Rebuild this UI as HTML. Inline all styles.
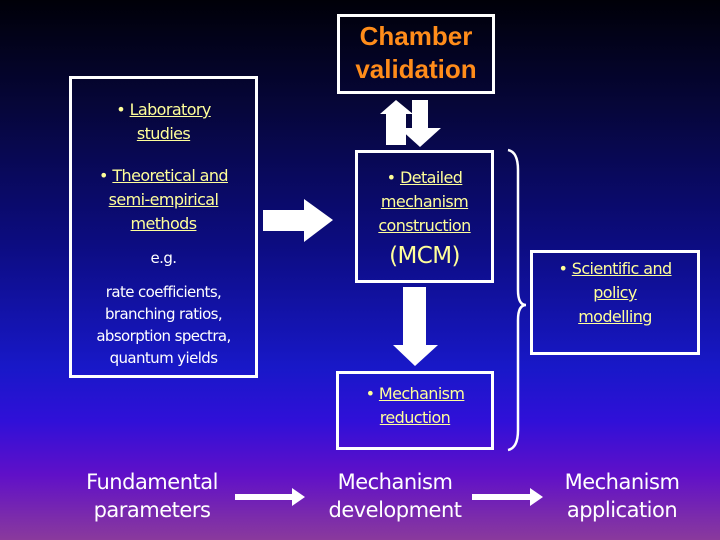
<!DOCTYPE html>
<html><head><style>
body{margin:0;width:720px;height:540px;overflow:hidden;font-family:"DejaVu Sans","Liberation Sans",sans-serif;
background:linear-gradient(180deg,#000008 0%,#06063a 20%,#0c0c80 45%,#1818c8 68%,#3010d8 78%,#6010c8 88%,#8a3a9c 100%);position:relative}
.b{position:absolute;border:3px solid #fff;box-sizing:border-box}
.t{position:absolute;text-align:center;color:#ffff99;font-size:16px;line-height:24px;letter-spacing:-0.6px}
.t u{text-decoration:underline}
.w{color:#fff}
.big{position:absolute;color:#fff;font-size:21px;line-height:28px;text-align:center;letter-spacing:-0.5px}
</style></head><body>
<div class="b" style="left:337px;top:14px;width:158px;height:80px"></div>
<div style="position:absolute;left:337px;top:20px;width:158px;text-align:center;color:#ff8c1a;font-weight:bold;font-size:26px;line-height:33px;font-family:'Liberation Sans',sans-serif">Chamber<br>validation</div>
<div class="b" style="left:69px;top:76px;width:189px;height:302px"></div>
<div class="t" style="left:69px;top:98px;width:189px">• <u>Laboratory<br>studies</u></div>
<div class="t" style="left:69px;top:164px;width:189px">• <u>Theoretical and<br>semi-empirical<br>methods</u></div>
<div class="t w" style="left:69px;top:246px;width:189px;font-size:15px">e.g.</div>
<div class="t w" style="left:69px;top:281px;width:189px;font-size:15px;line-height:22px">rate coefficients,<br>branching ratios,<br>absorption spectra,<br>quantum yields</div>
<div class="b" style="left:355px;top:150px;width:139px;height:133px"></div>
<div class="t" style="left:355px;top:166px;width:139px">• <u>Detailed<br>mechanism<br>construction</u></div>
<div class="t" style="left:355px;top:242px;width:139px;font-size:23px;line-height:28px">(MCM)</div>
<div class="b" style="left:336px;top:371px;width:158px;height:79px"></div>
<div class="t" style="left:336px;top:382px;width:158px">• <u>Mechanism<br>reduction</u></div>
<div class="b" style="left:530px;top:250px;width:170px;height:105px"></div>
<div class="t" style="left:530px;top:257px;width:170px">• <u>Scientific and<br>policy<br>modelling</u></div>
<div class="big" style="left:62px;top:468px;width:180px">Fundamental<br>parameters</div>
<div class="big" style="left:305px;top:468px;width:180px">Mechanism<br>development</div>
<div class="big" style="left:532px;top:468px;width:180px">Mechanism<br>application</div>
<svg width="720" height="540" style="position:absolute;left:0;top:0">
<g fill="#fff">
<polygon points="386,145 386,114 380,114 396,100 413,114 406,114 406,145"/>
<polygon points="412,100 428,100 428,128 441,128 420,147 399,128 412,128"/>
<polygon points="263,210 304,210 304,199 333,220 304,242 304,231 263,231"/>
<polygon points="403,287 426,287 426,345 438,345 415,366 393,345 403,345"/>
<polygon points="235,494 292,494 292,488 305,497 292,506 292,500 235,500"/>
<polygon points="472,494 530,494 530,488 543,497 530,506 530,500 472,500"/>
</g>
<path d="M508,150 Q518,152 518,170 L518,290 Q518,305 526,305 Q518,305 518,320 L518,430 Q518,448 508,450" stroke="#fff" stroke-width="2.5" fill="none"/>
</svg>
</body></html>
